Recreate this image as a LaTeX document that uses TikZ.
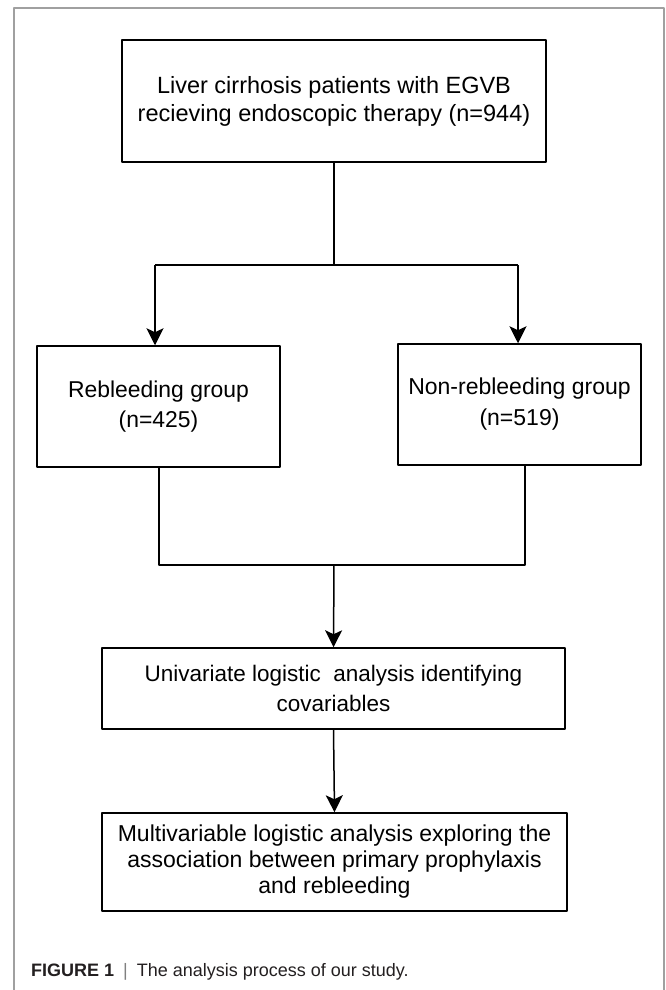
\documentclass[tikz,border=0pt]{standalone}
\usepackage{fontspec}
\setmainfont{Liberation Sans}
\usetikzlibrary{arrows.meta}
\definecolor{framegray}{HTML}{A0A0A0}
\definecolor{captext}{HTML}{231F20}
\tikzset{
	box/.style={draw,line width=1.5pt,inner sep=0pt,align=center},
	link/.style={line width=1.5pt}
}
\begin{document}
\begin{tikzpicture}[x=1pt,y=-1pt,line join=round,>={Stealth[length=17pt,width=17pt,inset=4pt]}]
	\useasboundingbox (0,0) rectangle (665,990);
	\draw[framegray,line width=1.6pt] (14,990)--(14,8)--(664,8)--(664,990);
	\path
	(334,101) coordinate (T)
	(158.5,406.5) coordinate (L)
	(519.5,404.5) coordinate (R)
	(333.5,688.5) coordinate (U)
	(334.5,862) coordinate (M)
	(155,265) coordinate (sl)
	(518,265) coordinate (sr)
	(159,565) coordinate (jl)
	(525,565) coordinate (jr)
	(334,565) coordinate (jm)
	;
	\node[box,minimum width=424pt,minimum height=122pt,font=\fontsize{23.5}{28}\selectfont] (top) at (T)
	{Liver cirrhosis patients with EGVB\\recieving endoscopic therapy (n=944)};
	\node[box,minimum width=243pt,minimum height=121pt,font=\fontsize{22.9}{30}\selectfont] (rebl) at (L)
	{Rebleeding group\\(n=425)};
	\node[box,minimum width=243pt,minimum height=121pt,font=\fontsize{23}{31}\selectfont] (nonrebl) at (R)
	{Non-rebleeding group\\(n=519)};
	\node[box,minimum width=463pt,minimum height=81pt,font=\fontsize{22.5}{30}\selectfont] (univ) at (U)
	{Univariate logistic\ \ analysis identifying\\covariables};
	\node[box,minimum width=465pt,minimum height=98pt,font=\fontsize{23}{26}\selectfont] (multi) at (M)
	{Multivariable logistic analysis exploring the\\association between primary prophylaxis\\and rebleeding};
	% connectors
	\draw[link] (top.south)--(top.south|-sl);
	\draw[link] (sl)--(sr);
	\foreach \tu/\den in {sl/rebl,sr/nonrebl}
	\draw[link,->] (\tu)--(\tu|-\den.north);
	\draw[link] (jl|-rebl.south)--(jl)--(jr)--(jr|-nonrebl.south);
	\draw[link,->] (jm)--(univ.north);
	\draw[link,->] (univ.south)--(multi.north);
	% caption
	\node[anchor=west,text=captext,inner sep=0pt,font=\fontsize{18}{20}\selectfont] (cap) at (31,972)
	{\textbf{FIGURE 1}\hspace{9pt}{\color{gray}|}\hspace{9pt}The analysis process of our study.};
\end{tikzpicture}
\end{document}
